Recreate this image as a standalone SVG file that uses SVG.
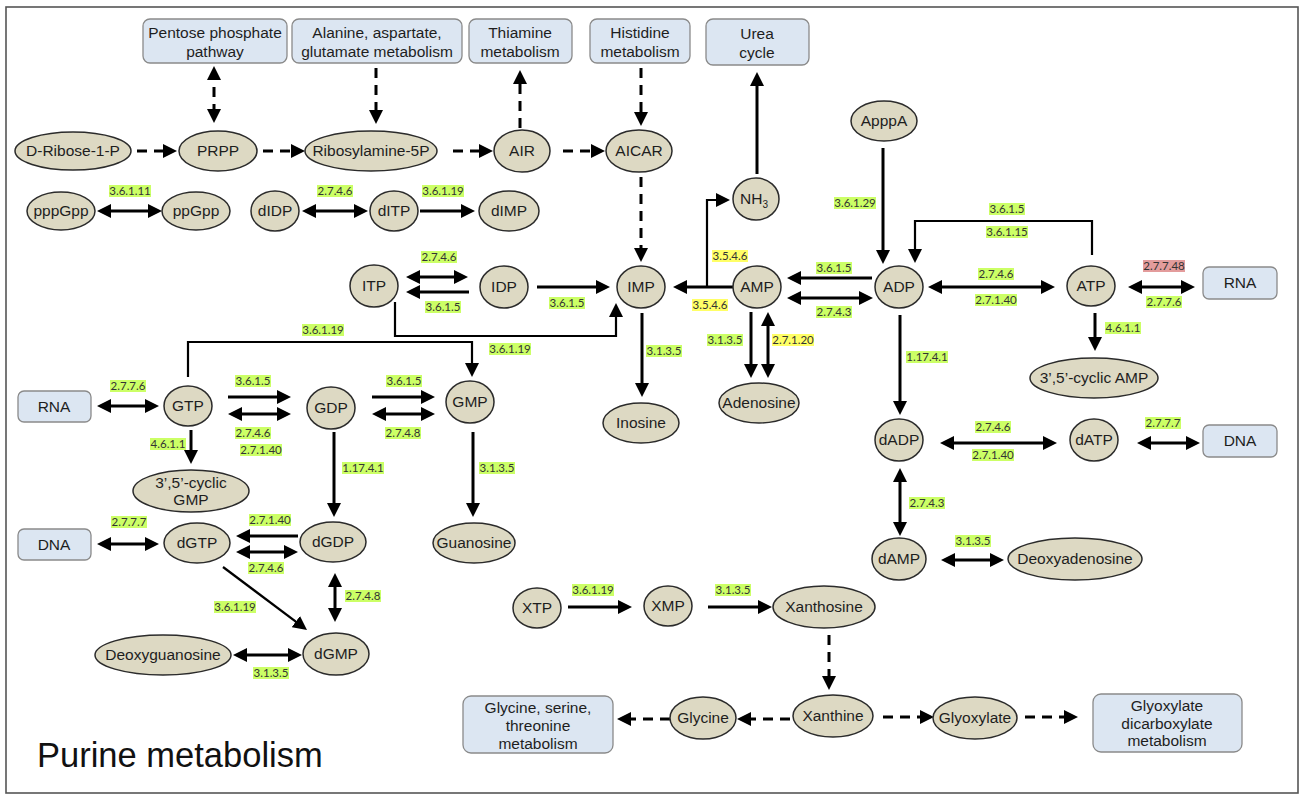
<svg xmlns="http://www.w3.org/2000/svg" width="1300" height="795" viewBox="0 0 1300 795">
<style>
.bg{fill:#fff;stroke:#555;stroke-width:1.6}
.n ellipse{fill:#ddd9c3;stroke:#2b2b2b;stroke-width:1.5}
.bx rect{fill:#dce6f2;stroke:#8a8a8a;stroke-width:1.3}
.n text,.bx text{font-family:"Liberation Sans",Arial,sans-serif;font-size:15.5px;fill:#1e1e1e;text-anchor:middle}
.k{fill:none;stroke:#000;stroke-width:3}
.t{fill:none;stroke:#000;stroke-width:2.2}
.d{fill:none;stroke:#000;stroke-width:3;stroke-dasharray:10 7}
.e{marker-end:url(#ah)}
.b{marker-start:url(#ah);marker-end:url(#ah)}
.g{fill:#ccff66}
.y{fill:#ffff66}
.r{fill:#e39c9c}
.lt{font-family:Lato,"Open Sans",sans-serif;font-size:11.5px;fill:#333;text-anchor:middle}
.title{font-family:"Liberation Sans",Arial,sans-serif;font-size:34.5px;fill:#111}
</style>
<defs>
<marker id="ah" viewBox="0 0 14 14" markerUnits="userSpaceOnUse" markerWidth="14" markerHeight="14" refX="10" refY="7" orient="auto-start-reverse"><path d="M0,0 L14,7 L0,14 z" fill="#000"/></marker>
</defs>
<rect class="bg" x="6" y="7" width="1292" height="786"/>

<g id="connectors">
<path class="d e" d="M137,151 H173"/>
<path class="d e" d="M263,151 H301"/>
<path class="d e" d="M453,151 H489"/>
<path class="d e" d="M563,151 H601"/>
<path class="d b" d="M214,70 V119"/>
<path class="d e" d="M376,68 V120"/>
<path class="d e" d="M520,128 V74"/>
<path class="d e" d="M641,68 V122"/>
<path class="d e" d="M641,177 V258"/>
<path class="d e" d="M829,635 V686"/>
<path class="d e" d="M790,719 H741"/>
<path class="d e" d="M670,719 H621"/>
<path class="d e" d="M883,717 H930"/>
<path class="d e" d="M1025,717 H1074"/>

<path class="k b" d="M101,211 H158"/>
<path class="k b" d="M306,211 H364"/>
<path class="k e" d="M420,211 H471"/>
<path class="k b" d="M410,277 H464"/>
<path class="k e" d="M469,292 H410"/>
<path class="k e" d="M537,287 H606"/>
<path class="k e" d="M733,287 H677"/>
<path class="t e" d="M707,287 V200 H726"/>
<path class="k e" d="M757,174 V76"/>
<path class="k e" d="M883,148 V260"/>
<path class="t e" d="M1092,255 V221 H915 V259"/>
<path class="k e" d="M872,278 H791"/>
<path class="k b" d="M791,298 H869"/>
<path class="k b" d="M932,287 H1051"/>
<path class="k b" d="M1132,287 H1191"/>
<path class="k e" d="M1095,313 V347"/>
<path class="k e" d="M900,315 V411"/>
<path class="k b" d="M944,443 H1053"/>
<path class="k b" d="M1141,443 H1196"/>
<path class="k b" d="M900,472 V532"/>
<path class="k b" d="M945,560 H1000"/>
<path class="k e" d="M751,312 V374"/>
<path class="k b" d="M768,316 V374"/>
<path class="k e" d="M642,313 V393"/>
<path class="t e" d="M395,302 V336 H616 V307"/>
<path class="t e" d="M188,377 V342 H472 V373"/>
<path class="k e" d="M473,432 V513"/>
<path class="k b" d="M101,406 H155"/>
<path class="k e" d="M228,397 H287"/>
<path class="k b" d="M232,414 H287"/>
<path class="k e" d="M372,397 H431"/>
<path class="k b" d="M376,414 H431"/>
<path class="k e" d="M191,430 V460"/>
<path class="k e" d="M334,432 V513"/>
<path class="k b" d="M101,544 H155"/>
<path class="k e" d="M298,536 H240"/>
<path class="k b" d="M240,552 H294"/>
<path class="k b" d="M335,577 V618"/>
<path class="t e" d="M223,567 L303.8,627.6"/>
<path class="k b" d="M237,655 H298"/>
<path class="k e" d="M568,607 H628"/>
<path class="k e" d="M708,607 H768"/>
</g>

<g id="enzyme-labels">
<rect class="g" x="109" y="185" width="42" height="12"/><text class="lt" x="130" y="195">3.6.1.11</text>
<rect class="g" x="317" y="185" width="36" height="12"/><text class="lt" x="335" y="195">2.7.4.6</text>
<rect class="g" x="422" y="185" width="42" height="12"/><text class="lt" x="443" y="195">3.6.1.19</text>
<rect class="g" x="421" y="251" width="36" height="12"/><text class="lt" x="439" y="261">2.7.4.6</text>
<rect class="g" x="425" y="301" width="36" height="12"/><text class="lt" x="443" y="311">3.6.1.5</text>
<rect class="g" x="549" y="297" width="36" height="12"/><text class="lt" x="567" y="307">3.6.1.5</text>
<rect class="g" x="489" y="343" width="42" height="12"/><text class="lt" x="510" y="353">3.6.1.19</text>
<rect class="g" x="302" y="324" width="42" height="12"/><text class="lt" x="323" y="334">3.6.1.19</text>
<rect class="y" x="712" y="250" width="36" height="12"/><text class="lt" x="730" y="260">3.5.4.6</text>
<rect class="y" x="692" y="299" width="36" height="12"/><text class="lt" x="710" y="309">3.5.4.6</text>
<rect class="g" x="816" y="262" width="36" height="12"/><text class="lt" x="834" y="272">3.6.1.5</text>
<rect class="g" x="816" y="306" width="36" height="12"/><text class="lt" x="834" y="316">2.7.4.3</text>
<rect class="g" x="834" y="197" width="42" height="12"/><text class="lt" x="855" y="207">3.6.1.29</text>
<rect class="g" x="989" y="203" width="36" height="12"/><text class="lt" x="1007" y="213">3.6.1.5</text>
<rect class="g" x="986" y="226" width="42" height="12"/><text class="lt" x="1007" y="236">3.6.1.15</text>
<rect class="g" x="978" y="268" width="36" height="12"/><text class="lt" x="996" y="278">2.7.4.6</text>
<rect class="g" x="975" y="294" width="42" height="12"/><text class="lt" x="996" y="304">2.7.1.40</text>
<rect class="r" x="1143" y="260" width="42" height="12"/><text class="lt" x="1164" y="270">2.7.7.48</text>
<rect class="g" x="1146" y="296" width="36" height="12"/><text class="lt" x="1164" y="306">2.7.7.6</text>
<rect class="g" x="1105" y="322" width="36" height="12"/><text class="lt" x="1123" y="332">4.6.1.1</text>
<rect class="g" x="906" y="351" width="42" height="12"/><text class="lt" x="927" y="361">1.17.4.1</text>
<rect class="g" x="975" y="421" width="36" height="12"/><text class="lt" x="993" y="431">2.7.4.6</text>
<rect class="g" x="972" y="449" width="42" height="12"/><text class="lt" x="993" y="459">2.7.1.40</text>
<rect class="g" x="1145" y="417" width="36" height="12"/><text class="lt" x="1163" y="427">2.7.7.7</text>
<rect class="g" x="909" y="497" width="36" height="12"/><text class="lt" x="927" y="507">2.7.4.3</text>
<rect class="g" x="955" y="535" width="36" height="12"/><text class="lt" x="973" y="545">3.1.3.5</text>
<rect class="g" x="707" y="334" width="36" height="12"/><text class="lt" x="725" y="344">3.1.3.5</text>
<rect class="y" x="772" y="334" width="42" height="12"/><text class="lt" x="793" y="344">2.7.1.20</text>
<rect class="g" x="646" y="345" width="36" height="12"/><text class="lt" x="664" y="355">3.1.3.5</text>
<rect class="g" x="479" y="462" width="36" height="12"/><text class="lt" x="497" y="472">3.1.3.5</text>
<rect class="g" x="110" y="380" width="36" height="12"/><text class="lt" x="128" y="390">2.7.7.6</text>
<rect class="g" x="235" y="375" width="36" height="12"/><text class="lt" x="253" y="385">3.6.1.5</text>
<rect class="g" x="235" y="427" width="36" height="12"/><text class="lt" x="253" y="437">2.7.4.6</text>
<rect class="g" x="240" y="444" width="42" height="12"/><text class="lt" x="261" y="454">2.7.1.40</text>
<rect class="g" x="386" y="375" width="36" height="12"/><text class="lt" x="404" y="385">3.6.1.5</text>
<rect class="g" x="385" y="427" width="36" height="12"/><text class="lt" x="403" y="437">2.7.4.8</text>
<rect class="g" x="150" y="438" width="36" height="12"/><text class="lt" x="168" y="448">4.6.1.1</text>
<rect class="g" x="342" y="462" width="42" height="12"/><text class="lt" x="363" y="472">1.17.4.1</text>
<rect class="g" x="111" y="516" width="36" height="12"/><text class="lt" x="129" y="526">2.7.7.7</text>
<rect class="g" x="249" y="514" width="42" height="12"/><text class="lt" x="270" y="524">2.7.1.40</text>
<rect class="g" x="248" y="562" width="36" height="12"/><text class="lt" x="266" y="572">2.7.4.6</text>
<rect class="g" x="345" y="590" width="36" height="12"/><text class="lt" x="363" y="600">2.7.4.8</text>
<rect class="g" x="214" y="601" width="42" height="12"/><text class="lt" x="235" y="611">3.6.1.19</text>
<rect class="g" x="253" y="667" width="36" height="12"/><text class="lt" x="271" y="677">3.1.3.5</text>
<rect class="g" x="572" y="584" width="42" height="12"/><text class="lt" x="593" y="594">3.6.1.19</text>
<rect class="g" x="715" y="584" width="36" height="12"/><text class="lt" x="733" y="594">3.1.3.5</text>
</g>

<g id="box-pentose" class="bx"><rect x="143" y="19" width="144" height="44" rx="7"/><text x="215" y="38">Pentose phosphate</text><text x="215" y="57">pathway</text></g>
<g id="box-alanine" class="bx"><rect x="292" y="19" width="170" height="44" rx="7"/><text x="377" y="38">Alanine, aspartate,</text><text x="377" y="57">glutamate metabolism</text></g>
<g id="box-thiamine" class="bx"><rect x="469" y="19" width="103" height="44" rx="7"/><text x="520" y="38">Thiamine</text><text x="520" y="57">metabolism</text></g>
<g id="box-histidine" class="bx"><rect x="590" y="19" width="100" height="44" rx="7"/><text x="640" y="38">Histidine</text><text x="640" y="57">metabolism</text></g>
<g id="box-urea" class="bx"><rect x="706" y="19" width="103" height="46" rx="7"/><text x="757" y="39">Urea</text><text x="757" y="58">cycle</text></g>
<g id="box-rna-right" class="bx"><rect x="1203" y="267" width="74" height="32" rx="6"/><text x="1240" y="288">RNA</text></g>
<g id="box-dna-right" class="bx"><rect x="1203" y="425" width="74" height="32" rx="6"/><text x="1240" y="446">DNA</text></g>
<g id="box-rna-left" class="bx"><rect x="18" y="391" width="73" height="31" rx="6"/><text x="54" y="412">RNA</text></g>
<g id="box-dna-left" class="bx"><rect x="18" y="529" width="73" height="31" rx="6"/><text x="54" y="550">DNA</text></g>
<g id="box-glycine-metab" class="bx"><rect x="463" y="696" width="150" height="57" rx="8"/><text x="538" y="713">Glycine, serine,</text><text x="538" y="731">threonine</text><text x="538" y="749">metabolism</text></g>
<g id="box-glyoxylate-metab" class="bx"><rect x="1093" y="694" width="149" height="58" rx="8"/><text x="1167" y="711">Glyoxylate</text><text x="1167" y="729">dicarboxylate</text><text x="1167" y="746">metabolism</text></g>

<g id="n-dribose" class="n"><ellipse cx="73" cy="151" rx="58" ry="19"/><text x="73" y="156">D-Ribose-1-P</text></g>
<g id="n-prpp" class="n"><ellipse cx="218" cy="151" rx="39" ry="20"/><text x="218" y="156">PRPP</text></g>
<g id="n-ribosylamine" class="n"><ellipse cx="371" cy="151" rx="66" ry="20"/><text x="371" y="156">Ribosylamine-5P</text></g>
<g id="n-air" class="n"><ellipse cx="522" cy="151" rx="28" ry="21"/><text x="522" y="156">AIR</text></g>
<g id="n-aicar" class="n"><ellipse cx="639" cy="151" rx="33" ry="21"/><text x="639" y="156">AICAR</text></g>
<g id="n-pppgpp" class="n"><ellipse cx="61" cy="211" rx="34" ry="19"/><text x="61" y="216">pppGpp</text></g>
<g id="n-ppgpp" class="n"><ellipse cx="196" cy="211" rx="34" ry="19"/><text x="196" y="216">ppGpp</text></g>
<g id="n-didp" class="n"><ellipse cx="275" cy="211" rx="24" ry="20"/><text x="275" y="216">dIDP</text></g>
<g id="n-ditp" class="n"><ellipse cx="394" cy="211" rx="24" ry="20"/><text x="394" y="216">dITP</text></g>
<g id="n-dimp" class="n"><ellipse cx="509" cy="211" rx="30" ry="20"/><text x="509" y="216">dIMP</text></g>
<g id="n-nh3" class="n"><ellipse cx="756" cy="199" rx="23" ry="21"/><text x="754" y="204">NH<tspan font-size="10" dy="4">3</tspan></text></g>
<g id="n-apppa" class="n"><ellipse cx="884" cy="121" rx="33" ry="20"/><text x="884" y="126">ApppA</text></g>
<g id="n-itp" class="n"><ellipse cx="374" cy="286" rx="24" ry="21"/><text x="374" y="291">ITP</text></g>
<g id="n-idp" class="n"><ellipse cx="504" cy="287" rx="24" ry="21"/><text x="504" y="292">IDP</text></g>
<g id="n-imp" class="n"><ellipse cx="641" cy="287" rx="24" ry="21"/><text x="641" y="292">IMP</text></g>
<g id="n-amp" class="n"><ellipse cx="757" cy="287" rx="24" ry="21"/><text x="757" y="292">AMP</text></g>
<g id="n-adp" class="n"><ellipse cx="899" cy="287" rx="24" ry="21"/><text x="899" y="292">ADP</text></g>
<g id="n-atp" class="n"><ellipse cx="1091" cy="286" rx="24" ry="20"/><text x="1091" y="291">ATP</text></g>
<g id="n-camp" class="n"><ellipse cx="1094" cy="378" rx="64" ry="20"/><text x="1094" y="383">3’,5’-cyclic AMP</text></g>
<g id="n-adenosine" class="n"><ellipse cx="759" cy="403" rx="40" ry="20"/><text x="759" y="408">Adenosine</text></g>
<g id="n-inosine" class="n"><ellipse cx="641" cy="423" rx="38" ry="20"/><text x="641" y="428">Inosine</text></g>
<g id="n-gtp" class="n"><ellipse cx="188" cy="406" rx="24" ry="20"/><text x="188" y="411">GTP</text></g>
<g id="n-gdp" class="n"><ellipse cx="331" cy="408" rx="24" ry="21"/><text x="331" y="413">GDP</text></g>
<g id="n-gmp" class="n"><ellipse cx="470" cy="402" rx="24" ry="21"/><text x="470" y="407">GMP</text></g>
<g id="n-cgmp" class="n"><ellipse cx="191" cy="491" rx="58" ry="21"/><text x="191" y="488">3’,5’-cyclic</text><text x="191" y="505">GMP</text></g>
<g id="n-guanosine" class="n"><ellipse cx="474" cy="543" rx="41" ry="20"/><text x="474" y="548">Guanosine</text></g>
<g id="n-dgtp" class="n"><ellipse cx="197" cy="543" rx="33" ry="20"/><text x="197" y="548">dGTP</text></g>
<g id="n-dgdp" class="n"><ellipse cx="333" cy="542" rx="33" ry="20"/><text x="333" y="547">dGDP</text></g>
<g id="n-dgmp" class="n"><ellipse cx="336" cy="654" rx="33" ry="21"/><text x="336" y="659">dGMP</text></g>
<g id="n-deoxyguanosine" class="n"><ellipse cx="163" cy="655" rx="68" ry="20"/><text x="163" y="660">Deoxyguanosine</text></g>
<g id="n-dadp" class="n"><ellipse cx="899" cy="440" rx="24" ry="21"/><text x="899" y="445">dADP</text></g>
<g id="n-datp" class="n"><ellipse cx="1094" cy="440" rx="24" ry="21"/><text x="1094" y="445">dATP</text></g>
<g id="n-damp" class="n"><ellipse cx="899" cy="559" rx="27" ry="21"/><text x="899" y="564">dAMP</text></g>
<g id="n-deoxyadenosine" class="n"><ellipse cx="1075" cy="559" rx="67" ry="21"/><text x="1075" y="564">Deoxyadenosine</text></g>
<g id="n-xtp" class="n"><ellipse cx="537" cy="608" rx="24" ry="20"/><text x="537" y="613">XTP</text></g>
<g id="n-xmp" class="n"><ellipse cx="668" cy="606" rx="24" ry="20"/><text x="668" y="611">XMP</text></g>
<g id="n-xanthosine" class="n"><ellipse cx="824" cy="607" rx="51" ry="21"/><text x="824" y="612">Xanthosine</text></g>
<g id="n-xanthine" class="n"><ellipse cx="833" cy="716" rx="40" ry="21"/><text x="833" y="721">Xanthine</text></g>
<g id="n-glycine" class="n"><ellipse cx="703" cy="718" rx="33" ry="21"/><text x="703" y="723">Glycine</text></g>
<g id="n-glyoxylate" class="n"><ellipse cx="975" cy="718" rx="42" ry="21"/><text x="975" y="723">Glyoxylate</text></g>

<text class="title" x="37" y="767">Purine metabolism</text>
</svg>
